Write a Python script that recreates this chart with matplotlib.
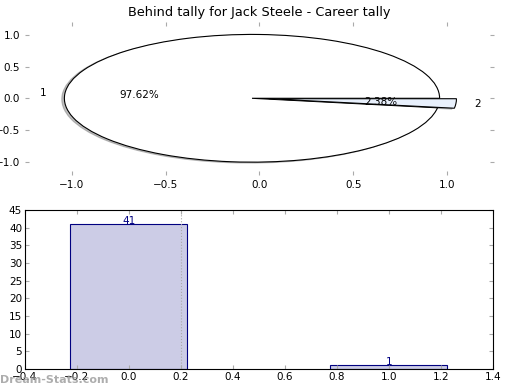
import matplotlib
matplotlib.use("Agg")
import matplotlib.pyplot as plt

# data
pie_labels = ["1", "2"]
pie_values = [41, 1]
pie_colors = ["white", "#e8f0fc"]
pie_explode = [0.04, 0.05]

bar_pos = [0, 1]
bar_values = [41, 1]

title = "Behind tally for Jack Steele - Career tally"

fig = plt.figure(figsize=(5.2, 3.9), dpi=100)

# pie chart on top
ax1 = fig.add_axes([0.048, 0.551, 0.902, 0.393])
ax1.pie(pie_values, labels=pie_labels, colors=pie_colors, explode=pie_explode,
        autopct="%.2f%%", shadow=dict(ox=-0.01, oy=-0.01, shade=0.5),
        startangle=0,
        wedgeprops=dict(edgecolor="black", linewidth=0.8),
        textprops=dict(fontsize=7.5))
ax1.set_aspect("auto")
ax1.set_frame_on(False)
ax1.set_xlim(-1.25, 1.25)
ax1.set_ylim(-1.2, 1.2)
ax1.set_xticks([-1.0, -0.5, 0.0, 0.5, 1.0])
ax1.set_yticks([-1.0, -0.5, 0.0, 0.5, 1.0])
ax1.tick_params(direction="in", length=3, color="#aaaaaa", labelsize=7.5,
                top=True, right=True)
ax1.set_title(title, fontsize=9.3, pad=4)

# bar chart below
ax2 = fig.add_axes([0.048, 0.054, 0.9, 0.4075])
ax2.bar(bar_pos, bar_values, width=0.45, color="#ccccE6",
        edgecolor="navy", linewidth=0.8)
for x, v in zip(bar_pos, bar_values):
    ax2.text(x, v - 0.4, str(v), ha="center", va="bottom", color="navy",
             fontsize=7.5)
ax2.axvline(0.2, ls=":", color="#aaaaaa", lw=0.8)
ax2.set_xlim(-0.4, 1.4)
ax2.set_ylim(0, 45)
ax2.set_yticks(range(0, 46, 5))
ax2.set_xticks([-0.4, -0.2, 0.0, 0.2, 0.4, 0.6, 0.8, 1.0, 1.2, 1.4])
ax2.tick_params(direction="in", length=3, color="#aaaaaa", labelsize=7.5,
                top=True, right=True, pad=2)

fig.text(0.0, 0.025, "Dream-Stats.com", color="#999999", alpha=0.8,
         fontsize=8, fontweight="bold", ha="left", va="center")

fig.savefig("out.png", dpi=100)
